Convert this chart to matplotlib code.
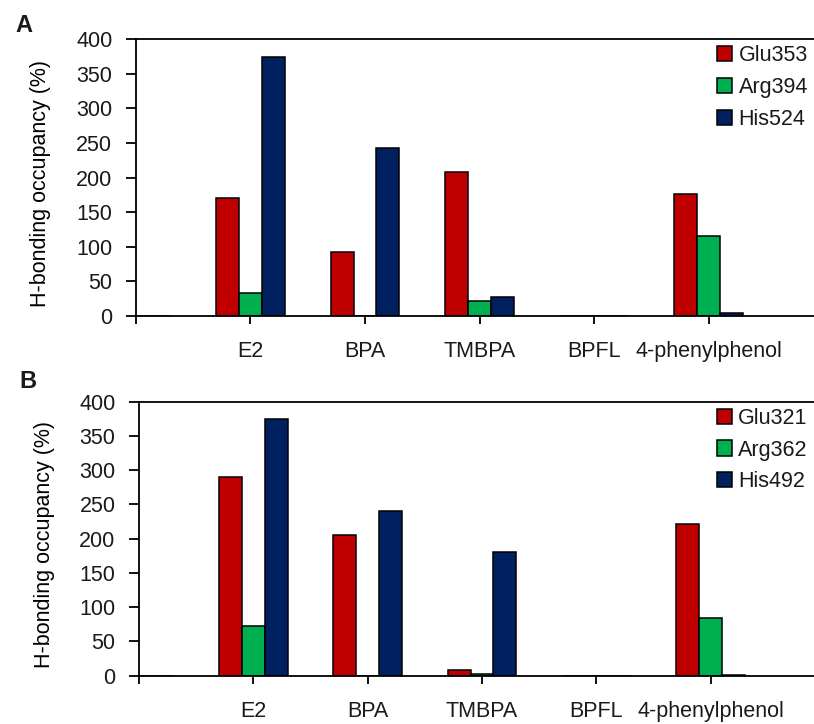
import matplotlib
matplotlib.use("Agg")
import matplotlib.pyplot as plt
import numpy as np

plt.rcParams['font.family'] = ['Liberation Sans', 'DejaVu Sans']
plt.rcParams['text.color'] = '#1a1a1a'
plt.rcParams['xtick.labelcolor'] = '#1a1a1a'
plt.rcParams['ytick.labelcolor'] = '#1a1a1a'

categories = ['', 'E2', 'BPA', 'TMBPA', 'BPFL', '4-phenylphenol']

# panel A
names_a = ['Glu353', 'Arg394', 'His524']
glu353 = [0, 171, 92, 208, 0, 176]
arg394 = [0, 33, 0, 21, 0, 115]
his524 = [0, 374, 242, 27, 0, 4]

# panel B
names_b = ['Glu321', 'Arg362', 'His492']
glu321 = [0, 290, 206, 9, 0, 222]
arg362 = [0, 72, 0, 2, 0, 84]
his492 = [0, 374, 240, 180, 0, 1]

colors = ['#C00000', '#00B050', '#002060']


def panel(ax, series, names, letter, right, ly):
    x = np.arange(len(categories))
    w = 0.2
    for i, (vals, name) in enumerate(zip(series, names)):
        ax.bar(x + (i - 1) * w, vals, w, color=colors[i], edgecolor='black',
               linewidth=1.1, label=name)
    ax.set_xlim(0, right)
    ax.set_ylim(0, 400)
    ax.set_yticks(np.arange(0, 401, 50))
    ax.set_xticks(x)
    ax.set_xticklabels(categories, fontsize=15.5)
    ax.tick_params(axis='y', labelsize=15.5, length=7, width=1.3, pad=10)
    ax.tick_params(axis='x', length=6, width=1.3, pad=12)
    ax.spines['right'].set_visible(False)
    for s in ['left', 'bottom', 'top']:
        ax.spines[s].set_linewidth(1.3)
    ax.set_ylabel('H-bonding occupancy (%)', fontsize=15.5)
    ax.yaxis.set_label_coords(-0.125, 0.48)
    ax.legend(loc='upper right', bbox_to_anchor=(1.01, 1.025), frameon=False,
              fontsize=15.5, handlelength=0.7, handleheight=0.7,
              handletextpad=0.3, labelspacing=0.5, borderaxespad=0.2)
    ax.text(-0.178, ly, letter, transform=ax.transAxes, fontsize=17,
            fontweight='bold', ha='left', va='center')


fig = plt.figure(figsize=(8.14, 7.24), dpi=100)
ax_a = fig.add_axes([0.167, 0.5635, 0.833, 0.3825])
ax_b = fig.add_axes([0.1708, 0.0667, 0.8292, 0.3785])
panel(ax_a, [glu353, arg394, his524], names_a, 'A', 5.92, 1.05)
panel(ax_b, [glu321, arg362, his492], names_b, 'B', 5.905, 1.075)

fig.savefig('out.png', dpi=100)
